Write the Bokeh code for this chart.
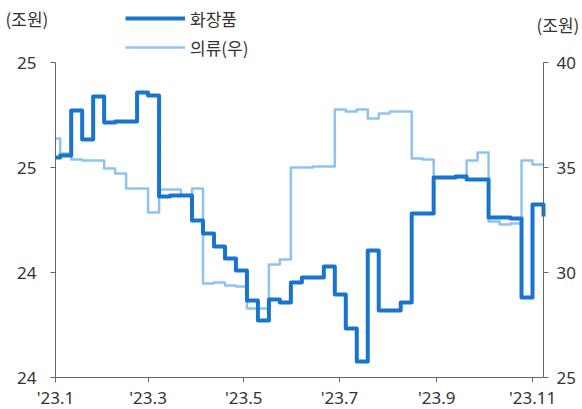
import datetime as dt
import pandas as pd
from bokeh.plotting import figure
from bokeh.models import Range1d, LinearAxis, DatetimeAxis, FixedTicker, Legend, LegendItem, Label
from bokeh.embed import file_html
from bokeh.resources import INLINE

# ---- data (weekly, Wednesdays; first value is the carry-in at the start of the window) ----
first_week = "2023-01-04"
cosmetics = [25.048, 25.057, 25.271, 25.133, 25.338, 25.214, 25.219, 25.219, 25.357, 25.343,
             24.862, 24.867, 24.867, 24.748, 24.686, 24.624, 24.567, 24.510, 24.367, 24.271,
             24.371, 24.357, 24.452, 24.476, 24.476, 24.529, 24.395, 24.233, 24.076, 24.605,
             24.319, 24.319, 24.357, 24.781, 24.781, 24.952, 24.952, 24.957, 24.943, 24.943,
             24.762, 24.762, 24.757, 24.381, 24.824, 24.767]
clothing = [36.38, 35.67, 35.38, 35.33, 35.33, 34.95, 34.71, 34.00, 34.00, 32.86,
            33.95, 33.95, 33.67, 34.00, 29.48, 29.52, 29.38, 29.33, 28.29, 28.29,
            30.38, 30.62, 35.00, 35.00, 35.05, 35.05, 37.76, 37.67, 37.76, 37.33,
            37.57, 37.67, 37.67, 35.43, 35.38, 34.52, 34.52, 34.52, 35.33, 35.71,
            32.43, 32.29, 32.33, 35.33, 35.14, 35.14]
series_names = ["화장품", "의류(우)"]
unit_label = "(조원)"

x_start, x_end = "2023-01-01", "2023-11-08"
x_tick_dates = ["2023-01-01", "2023-03-01", "2023-05-01", "2023-07-01", "2023-09-01", "2023-11-01"]
x_tick_labels = ["'23.1", "'23.3", "'23.5", "'23.7", "'23.9", "'23.11"]
left_lim = (24.0, 25.5)
left_ticks = [24.0, 24.5, 25.0, 25.5]
left_tick_labels = ["24", "24", "25", "25"]
right_lim = (25.0, 40.0)
right_ticks = [25, 30, 35, 40]

# ---- layout (pixels) ----
W, H = 582, 409
PL, PR, PT, PB = 55, 543, 62, 377     # plot box inside the canvas

FONT = "Noto Sans CJK KR"
NUMFONT = "Noto Sans"
TXT = "#333333"
AX = "#666666"
DARK = "#1874CD"
LIGHT = "#8EC3F0"


def padded(lo, hi, lo_px, hi_px, lo_pad_px, hi_pad_px):
    per = (hi - lo) / (hi_px - lo_px)
    return lo - lo_pad_px * per, hi + hi_pad_px * per


t0 = pd.Timestamp(x_start).value / 1e6
t1 = pd.Timestamp(x_end).value / 1e6
xr = padded(t0, t1, PL, PR, PL, W - PR)
ylr = padded(left_lim[0], left_lim[1], 0, PB - PT, H - PB, PT)
yrr = padded(right_lim[0], right_lim[1], 0, PB - PT, H - PB, PT)

weeks = pd.date_range(first_week, periods=len(cosmetics) - 1, freq="7D")
dates = [pd.Timestamp(x_start)] + list(weeks)

p = figure(width=W, height=H, x_axis_type=None, y_axis_type=None,
           x_range=Range1d(*xr), y_range=Range1d(*ylr),
           output_backend="svg", toolbar_location=None,
           min_border=0, min_border_left=0, min_border_right=0,
           min_border_top=0, min_border_bottom=0)
p.extra_y_ranges = {"right": Range1d(*yrr)}
p.grid.visible = False
p.outline_line_color = None
p.background_fill_color = "white"
p.border_fill_color = "white"

r_light = p.step(dates, clothing, mode="after", y_range_name="right",
                 line_color=LIGHT, line_width=2.5, line_join="round")
r_dark = p.step(dates, cosmetics, mode="after",
                line_color=DARK, line_width=4, line_join="round")

tick_ms = [pd.Timestamp(d).value / 1e6 for d in x_tick_dates]
xaxis = DatetimeAxis(ticker=FixedTicker(ticks=tick_ms), fixed_location=left_lim[0],
                     bounds=(t0, t1),
                     major_label_overrides={t: l for t, l in zip(tick_ms, x_tick_labels)})
left_axis = LinearAxis(ticker=FixedTicker(ticks=left_ticks), fixed_location=t0,
                       bounds=left_lim,
                       major_label_overrides={t: l for t, l in zip(left_ticks, left_tick_labels)})
right_axis = LinearAxis(y_range_name="right", ticker=FixedTicker(ticks=right_ticks),
                        fixed_location=t1, bounds=right_lim)
p.add_layout(xaxis, "below")
p.add_layout(left_axis, "left")
p.add_layout(right_axis, "right")

for ax in [xaxis, left_axis, right_axis]:
    ax.axis_line_color = AX
    ax.major_tick_line_color = AX
    ax.minor_tick_line_color = None
    ax.major_tick_in = 0
    ax.major_tick_out = 5
    ax.major_label_text_font = NUMFONT
    ax.major_label_text_font_size = "17px"
    ax.major_label_text_color = TXT
xaxis.major_label_standoff = 3
left_axis.major_label_standoff = 14
right_axis.major_label_standoff = 8

legend = Legend(items=[LegendItem(label=series_names[0], renderers=[r_dark]),
                       LegendItem(label=series_names[1], renderers=[r_light])],
                location=(125, H - 59.5), orientation="vertical",
                glyph_width=60, glyph_height=20, label_height=20, spacing=4,
                label_standoff=5, padding=0, margin=0,
                border_line_color=None, background_fill_alpha=0,
                label_text_font=FONT, label_text_font_size="17px", label_text_color=TXT)
p.add_layout(legend, "center")

p.add_layout(Label(x=5, y=H - 18, x_units="screen", y_units="screen", text=unit_label,
                   text_font=FONT, text_font_size="17px", text_color=TXT,
                   text_baseline="middle", text_align="left"))
p.add_layout(Label(x=536, y=H - 24, x_units="screen", y_units="screen", text=unit_label,
                   text_font=FONT, text_font_size="17px", text_color=TXT,
                   text_baseline="middle", text_align="left"))

open("out.html", "w").write(file_html(p, INLINE))
